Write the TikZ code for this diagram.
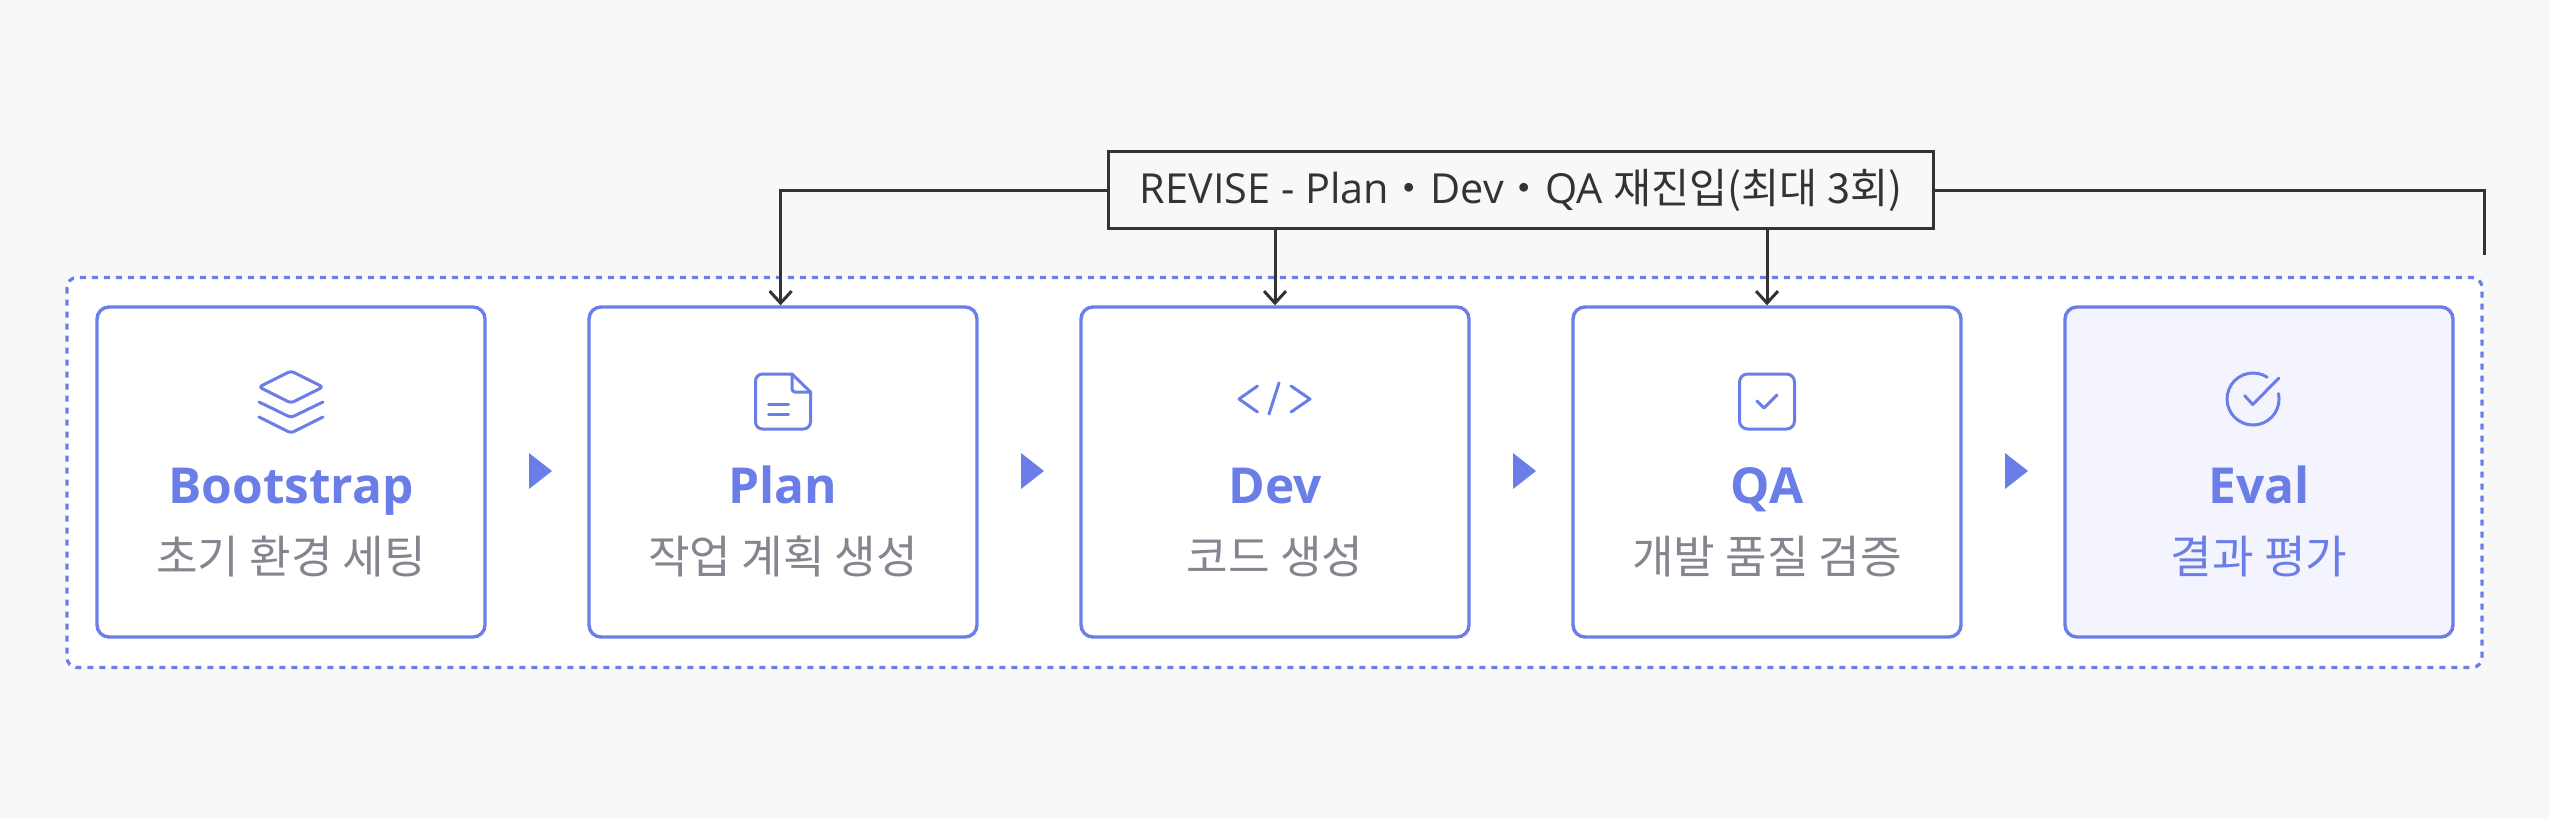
\documentclass[tikz,border=0pt]{standalone}
\usepackage{fontspec}
\usetikzlibrary{arrows.meta,calc}
\setmainfont{Open Sans}
\newfontfamily\krfont{Noto Sans CJK KR}
\definecolor{bg}{HTML}{F8F8F8}
\definecolor{accent}{HTML}{6B7EE8}
\definecolor{ink}{HTML}{333333}
\definecolor{muted}{HTML}{85858F}
\definecolor{evalfill}{HTML}{F3F4FE}
\tikzset{
  frame/.style={draw=accent,fill=white,line width=1.6pt,rounded corners=5pt,dash pattern=on 3pt off 3pt},
  stepbox/.style={draw=accent,fill=white,line width=1.7pt,rounded corners=6pt,minimum width=194pt,minimum height=165pt,inner sep=0pt},
  evalbox/.style={stepbox,fill=evalfill},
  title/.style={anchor=base,text=accent,inner sep=0pt,font=\fontsize{24.8}{30}\selectfont\bfseries},
  sub/.style={anchor=base,text=muted,inner sep=0pt,font=\fontsize{22.6}{26}\selectfont\krfont},
  revisebox/.style={draw=ink,fill=bg,line width=1.6pt,minimum width=412.5pt,minimum height=38.5pt,inner sep=0pt,text=ink,font=\fontsize{20.7}{24}\selectfont},
  fb/.style={draw=ink,line width=1.5pt},
  fbarrow/.style={fb,-{Straight Barb[length=6pt,width=11pt,line width=1.5pt]}},
  icon/.style={draw=accent,line width=1.5pt,line cap=round,line join=round},
  play/.style={fill=accent}
}
\begin{document}
\begin{tikzpicture}[x=0.5pt,y=-0.5pt]
\useasboundingbox (0,0) rectangle (2550,819);
\fill[bg] (0,0) rectangle (2550,819);
\draw[frame] (67,277.5) rectangle (2482,667.5);

\node[stepbox] (b1) at (291,472) {};
\node[stepbox] (b2) at (783,472) {};
\node[stepbox] (b3) at (1275,472) {};
\node[stepbox] (b4) at (1767,472) {};
\node[evalbox] (b5) at (2259,472) {};

\foreach \x in {529,1021,1513,2005}
  \fill[play] (\x,453) -- (\x+23,471) -- (\x,489) -- cycle;

% layers icon
\draw[icon,rounded corners=1.5pt] (291,371) -- (323,387) -- (291,403) -- (259,387) -- cycle;
\draw[icon,rounded corners=1.5pt] (259,402) -- (291,417.5) -- (323,402);
\draw[icon,rounded corners=1.5pt] (259,417) -- (291,433) -- (323,417);
% document icon
\draw[icon,rounded corners=3.5pt] (792,374) -- (755.5,374) -- (755.5,429) -- (810.5,429) -- (810.5,392);
\draw[icon] (792,374) -- (810.5,392);
\draw[icon,rounded corners=1.5pt] (792,374) -- (792,392) -- (810.5,392);
\draw[icon] (768.5,404.5) -- (788.5,404.5) (768.5,414) -- (788.5,414);
% code icon
\draw[icon] (1257.5,386) -- (1239,399) -- (1257.5,412);
\draw[icon] (1279,383) -- (1269,414);
\draw[icon] (1291,386) -- (1310,399) -- (1291,412);
% check box icon
\draw[icon,rounded corners=4pt] (1739.5,374) rectangle (1794.5,429);
\draw[icon] (1757,401) -- (1764,408) -- (1777,395);
% check circle icon
\draw[icon] (2267.2,377.2) arc[start angle=-57,end angle=-372,radius=26];
\draw[icon] (2244.7,395.7) -- (2252.7,404.5) -- (2278.7,378.3);

\node[title] (t1) at (291,503) {Bootstrap};
\node[title] (t2) at (783,503) {Plan};
\node[title] (t3) at (1275,503) {Dev};
\node[title] (t4) at (1767,503) {QA};
\node[title] (t5) at (2259,503) {Eval};

\node[sub] (s1) at (291,573.5) {초기 환경 세팅};
\node[sub] (s2) at (783,573.5) {작업 계획 생성};
\node[sub] (s3) at (1275,573.5) {코드 생성};
\node[sub] (s4) at (1767,573.5) {개발 품질 검증};
\node[sub,text=accent] (s5) at (2259,573.5) {결과 평가};

\node[revisebox] (rev) at (1521,190) {\raisebox{-2pt}{REVISE - Plan{\krfont ・}Dev{\krfont ・}QA {\krfont 재진입(최대 3회)}}};
\coordinate (fbend) at (2484,255);

\draw[fbarrow] (rev.west) -| ([xshift=-1.2pt]b2.north);
\draw[fbarrow] (rev.south -| b3.north) -- (b3.north);
\draw[fbarrow] (rev.south -| b4.north) -- (b4.north);
\draw[fb] (rev.east) -| (fbend);
\end{tikzpicture}
\end{document}
